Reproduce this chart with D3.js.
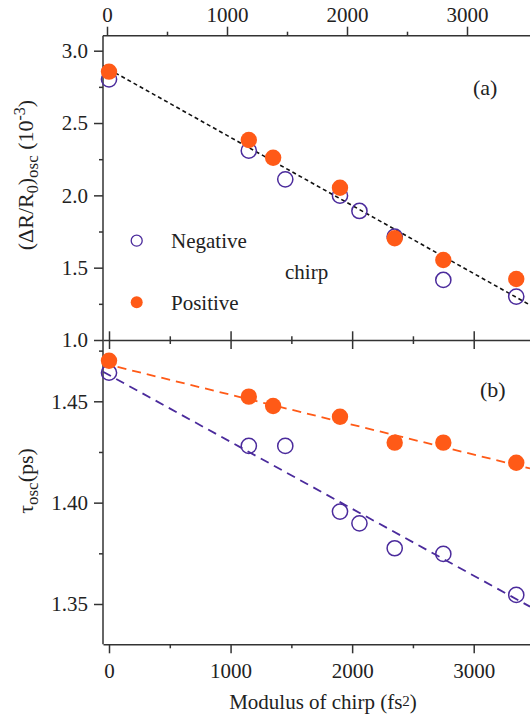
<!DOCTYPE html>
<html><head><meta charset="utf-8">
<script src="https://cdn.jsdelivr.net/npm/d3@7"></script>
<style>
body{margin:0;background:#fff}
svg{display:block}
text{font-family:"Liberation Serif","Times New Roman",serif;fill:#222}
.axis path,.axis line{stroke:#333;stroke-width:1.5}
.axis text{font-family:"Liberation Serif","Times New Roman",serif;font-size:21px;fill:#222}
</style>
</head><body><svg id="c" width="530" height="715"></svg>
<script>
// ---- data ----
const chirpPos = [0, 1150, 1350, 1900, 2350, 2750, 3350];
const chirpNeg = [0, 1150, 1450, 1900, 2060, 2350, 2750, 3350];
const ampPos = [2.855, 2.383, 2.260, 2.053, 1.703, 1.553, 1.422];
const ampNeg = [2.802, 2.309, 2.111, 1.998, 1.892, 1.715, 1.415, 1.300];
const tauPos = [1.470, 1.4523, 1.4477, 1.4424, 1.4296, 1.4296, 1.4197];
const tauNeg = [1.4641, 1.4280, 1.4280, 1.3956, 1.3898, 1.3775, 1.3747, 1.3545];
const fitX = [-49, 3463];
const fitAmp = [2.894, 1.242];
const fitTauPos = [1.4687, 1.4169];
const fitTauNeg = [1.4646, 1.3487];
const xMajor = [0, 1000, 2000, 3000];
const xMinor = [500, 1500, 2500];
const ampMajor = [1.0, 1.5, 2.0, 2.5, 3.0];
const ampMinor = [1.25, 1.75, 2.25, 2.75];
const tauMajor = [1.35, 1.40, 1.45];
const tauMinor = [1.375, 1.425, 1.475];
const legendLabels = ["Negative", "Positive"];

const ORANGE = "#FF5A17", PURPLE = "#4B2B9C";
const svg = d3.select("#c");

const L = 103, R = 530;
const x = d3.scaleLinear().domain([-49.4, 3463]).range([L, R]);
const xTop = d3.scaleLinear().domain([0, 3000]).range([107, 467]);
const yA = d3.scaleLinear().domain([1.0, 3.0]).range([340, 50.7]);
const yB = d3.scaleLinear().domain([1.35, 1.45]).range([604, 401.3]);
const aTop = 35.7, aBot = 340, bTop = 340.3, bBot = 644.3;

svg.append("defs").append("clipPath").attr("id","clipA").append("rect")
  .attr("x",L).attr("y",aTop).attr("width",R-L).attr("height",aBot-aTop);
svg.select("defs").append("clipPath").attr("id","clipB").append("rect")
  .attr("x",L).attr("y",bTop).attr("width",R-L).attr("height",bBot-bTop);

function axisG(gen, tx, ty){
  return svg.append("g").attr("class","axis").attr("transform",`translate(${tx},${ty})`).call(gen);
}
// top axis (panel a)
axisG(d3.axisTop(xTop).tickValues(xMajor).tickSize(9).tickSizeOuter(0).tickPadding(5).tickFormat(d3.format("d")),0,aTop).select(".domain").remove();
axisG(d3.axisTop(xTop).tickValues(xMinor).tickSize(4).tickSizeOuter(0).tickFormat(""),0,aTop).select(".domain").remove();
svg.append("line").attr("x1",L).attr("x2",R).attr("y1",aTop).attr("y2",aTop).attr("stroke","#333").attr("stroke-width",1.5);
// middle axes
axisG(d3.axisBottom(x).tickValues(xMajor).tickSize(9).tickSizeOuter(0).tickFormat(""),0,aBot);
axisG(d3.axisBottom(x).tickValues(xMinor).tickSize(4).tickSizeOuter(0).tickFormat(""),0,aBot).select(".domain").remove();
axisG(d3.axisTop(x).tickValues(xMajor).tickSize(9).tickSizeOuter(0).tickFormat(""),0,bTop).select(".domain").remove();
axisG(d3.axisTop(x).tickValues(xMinor).tickSize(4).tickSizeOuter(0).tickFormat(""),0,bTop).select(".domain").remove();
// bottom axis
axisG(d3.axisBottom(x).tickValues(xMajor).tickSize(9).tickSizeOuter(0).tickPadding(10).tickFormat(d3.format("d")),0,bBot);
axisG(d3.axisBottom(x).tickValues(xMinor).tickSize(4).tickSizeOuter(0).tickFormat(""),0,bBot).select(".domain").remove();
// left axes
axisG(d3.axisLeft(yA).tickValues(ampMajor).tickSize(9).tickSizeOuter(0).tickPadding(6).tickFormat(d3.format(".1f")),L,0).select(".domain").remove();
axisG(d3.axisLeft(yA).tickValues(ampMinor).tickSize(4).tickSizeOuter(0).tickFormat(""),L,0).select(".domain").remove();
axisG(d3.axisLeft(yB).tickValues(tauMajor).tickSize(9).tickSizeOuter(0).tickPadding(6).tickFormat(d3.format(".2f")),L,0).select(".domain").remove();
axisG(d3.axisLeft(yB).tickValues(tauMinor).tickSize(4).tickSizeOuter(0).tickFormat(""),L,0).select(".domain").remove();
svg.append("line").attr("x1",L).attr("x2",L).attr("y1",aTop).attr("y2",bBot).attr("stroke","#333").attr("stroke-width",1.5);

// panel a
const gA = svg.append("g").attr("clip-path","url(#clipA)");
const lineA = d3.line().x(d=>x(d[0])).y(d=>yA(d[1]));
gA.append("path").datum(fitX.map((v,i)=>[v,fitAmp[i]])).attr("d",lineA)
  .attr("fill","none").attr("stroke","#111").attr("stroke-width",1.6).attr("stroke-dasharray","4,3");
const gAm = svg.append("g");
gAm.selectAll("circle.n").data(chirpNeg).join("circle").attr("class","n")
  .attr("cx",d=>x(d)).attr("cy",(d,i)=>yA(ampNeg[i])).attr("r",7.6)
  .attr("fill","none").attr("stroke",PURPLE).attr("stroke-width",1.5);
gAm.selectAll("circle.p").data(chirpPos).join("circle").attr("class","p")
  .attr("cx",d=>x(d)).attr("cy",(d,i)=>yA(ampPos[i])).attr("r",8.2)
  .attr("fill",ORANGE);

// panel b
const gB = svg.append("g").attr("clip-path","url(#clipB)");
const lineB = d3.line().x(d=>x(d[0])).y(d=>yB(d[1]));
gB.append("path").datum(fitX.map((v,i)=>[v,fitTauPos[i]])).attr("d",lineB)
  .attr("fill","none").attr("stroke",ORANGE).attr("stroke-width",1.8).attr("stroke-dasharray","9,6");
gB.append("path").datum(fitX.map((v,i)=>[v,fitTauNeg[i]])).attr("d",lineB)
  .attr("fill","none").attr("stroke",PURPLE).attr("stroke-width",1.8).attr("stroke-dasharray","9,6");
const gBm = svg.append("g");
gBm.selectAll("circle.n").data(chirpNeg).join("circle").attr("class","n")
  .attr("cx",d=>x(d)).attr("cy",(d,i)=>yB(tauNeg[i])).attr("r",7.6)
  .attr("fill","none").attr("stroke",PURPLE).attr("stroke-width",1.5);
gBm.selectAll("circle.p").data(chirpPos).join("circle").attr("class","p")
  .attr("cx",d=>x(d)).attr("cy",(d,i)=>yB(tauPos[i])).attr("r",8.2)
  .attr("fill",ORANGE);

// legend
const FS = 21;
svg.append("circle").attr("cx",136.7).attr("cy",240.7).attr("r",5.5).attr("fill","none").attr("stroke",PURPLE).attr("stroke-width",1.3);
svg.append("circle").attr("cx",136.7).attr("cy",302.3).attr("r",6).attr("fill",ORANGE);
svg.append("text").attr("x",171).attr("y",248).attr("font-size",FS).text(legendLabels[0]);
svg.append("text").attr("x",171).attr("y",310).attr("font-size",FS).text(legendLabels[1]);
svg.append("text").attr("x",285).attr("y",279).attr("font-size",FS).text("chirp");

// panel labels
svg.append("text").attr("x",473).attr("y",95).attr("font-size",22).text("(a)");
svg.append("text").attr("x",480).attr("y",397).attr("font-size",22).text("(b)");

// axis titles
const tA = svg.append("text").attr("transform","translate(33,175) rotate(-90)").attr("text-anchor","middle").attr("font-size",22);
tA.append("tspan").text("(ΔR/R");
tA.append("tspan").attr("font-size",16).attr("dy",5).text("0");
tA.append("tspan").attr("dy",-5).text(")");
tA.append("tspan").attr("font-size",17).attr("dy",5).text("osc");
tA.append("tspan").attr("dy",-5).text(" (10");
tA.append("tspan").attr("font-size",16).attr("dy",-8).text("-3");
tA.append("tspan").attr("dy",8).text(")");

const tB = svg.append("text").attr("transform","translate(33,481) rotate(-90)").attr("text-anchor","middle").attr("font-size",22);
tB.append("tspan").text("τ");
tB.append("tspan").attr("font-size",17).attr("dy",5).text("osc");
tB.append("tspan").attr("dy",-5).text("(ps)");

const tX = svg.append("text").attr("x",323).attr("y",709).attr("text-anchor","middle").attr("font-size",FS);
tX.append("tspan").text("Modulus of chirp (fs");
tX.append("tspan").attr("font-size",15).attr("dy",-3).text("2");
tX.append("tspan").attr("dy",3).text(")");
</script>
</body></html>
